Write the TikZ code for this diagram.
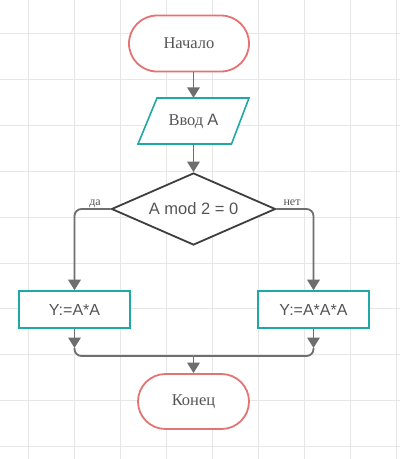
\documentclass[tikz,border=0pt]{standalone}
\usepackage{fontspec}
\setmainfont{Liberation Serif}
\setsansfont{Liberation Sans}
\usetikzlibrary{arrows.meta,shapes.geometric}
\definecolor{gridc}{HTML}{E6E6E6}
\definecolor{termc}{HTML}{E57373}
\definecolor{tealc}{HTML}{1FA8A6}
\definecolor{arrc}{HTML}{6E6E6E}
\definecolor{txtc}{HTML}{555555}
\definecolor{decc}{HTML}{3E3E3E}
\tikzset{
  term/.style={draw=termc, line width=1.8pt, fill=white, inner sep=0pt, text=txtc, font=\rmfamily\fontsize{16.5}{18}\selectfont},
  procbox/.style={draw=tealc, line width=1.6pt, fill=white, inner sep=0pt, minimum width=111pt, minimum height=37pt, text=txtc, font=\sffamily\fontsize{16}{18}\selectfont},
  decbox/.style={shape=diamond, draw=decc, line width=1.8pt, fill=white, inner sep=0pt, aspect=2.28, minimum width=164pt, minimum height=72pt, text=txtc, font=\sffamily\fontsize{16.5}{18}\selectfont},
  conn/.style={draw=arrc, line width=1.8pt},
  arr/.style={conn, -{Triangle[width=12.5pt,length=10.5pt]}},
  lbl/.style={text=txtc, font=\rmfamily\fontsize{12}{13}\selectfont, inner sep=0pt},
}
\begin{document}
\begin{tikzpicture}[x=1pt,y=-1pt]
\useasboundingbox (0,0) rectangle (400,459);
\fill[white] (0,0) rectangle (400,459);
% grid
\foreach \k in {0,...,8} \draw[gridc, line width=1pt] (28.5+46*\k,0) -- (28.5+46*\k,459);
\foreach \k in {0,...,9} \draw[gridc, line width=1pt] (0,33.5+45.9*\k) -- (400,33.5+45.9*\k);

% nodes
\node[term, rounded corners=28pt, minimum width=120pt, minimum height=56pt] (start) at (189,43.5) {Начало};
\node[inner sep=0pt, minimum width=80pt, minimum height=46pt] (in) at (193.5,121) {};
\draw[tealc, line width=1.6pt, fill=white, line join=miter]
  (157,98) -- (249,98) -- (231.5,144) -- (138,144) -- cycle;
\node[text=txtc, inner sep=0pt] at (in.center) {\rmfamily\fontsize{16.5}{18}\selectfont Ввод \sffamily A};
\node[decbox] (dec) at (193.5,209) {A mod 2 = 0};
\node[procbox] (left) at (74.5,309.5) {Y:=A*A};
\node[procbox] (right) at (313.5,309.5) {Y:=A*A*A};
\node[term, rounded corners=27.5pt, minimum width=111pt, minimum height=55pt] (end) at (193.5,401.5) {Конец};

\coordinate (la) at (74.5,348);
\coordinate (ra) at (313.5,348);
\coordinate (m) at (193.5,356);

% connectors
\draw[arr] (start.south -| in.north) -- (in.north);
\draw[arr] (in.south) -- (dec.north);
\draw[arr, rounded corners=7pt] (dec.west) -| (left.north);
\draw[arr, rounded corners=7pt] (dec.east) -| (right.north);
\draw[arr] (left.south) -- (la);
\draw[arr] (right.south) -- (ra);
\draw[conn, rounded corners=7pt] (la) |- (m);
\draw[conn, rounded corners=7pt] (ra) |- (m);
\draw[arr] (m) -- (end.north);

% labels
\node[lbl, anchor=base] (yes) at (95,205) {да};
\node[lbl, anchor=base] (no) at (292,205) {нет};
\end{tikzpicture}
\end{document}
